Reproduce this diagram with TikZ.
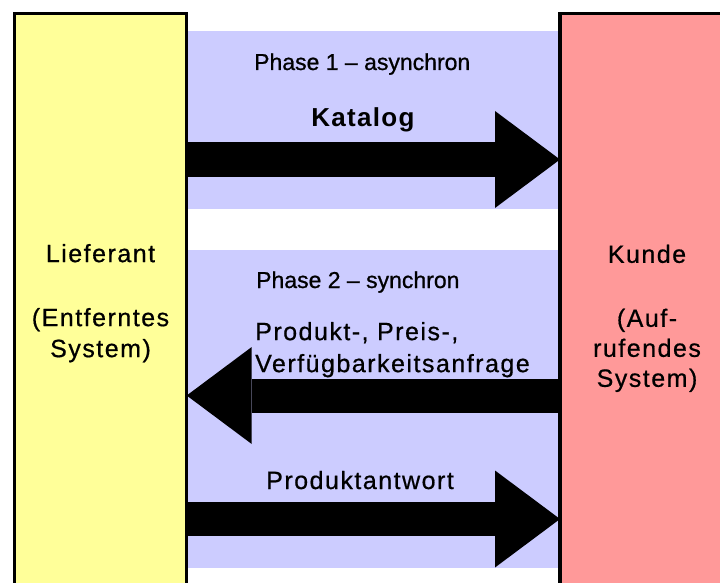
\documentclass[tikz,border=0pt]{standalone}
\usepackage{fontspec}
\setmainfont{Liberation Sans}
\usetikzlibrary{arrows.meta}
\definecolor{lief}{HTML}{FFFF99}
\definecolor{kund}{HTML}{FF9999}
\definecolor{band}{HTML}{CCCCFF}
\tikzset{
  sysbox/.style={draw=black, line width=3.3pt, inner sep=0pt, outer sep=0pt},
  bigtext/.style={inner sep=0pt, font=\fontsize{25}{31}\selectfont\addfontfeatures{LetterSpace=6,FakeBold=0.6}},
  phasetext/.style={inner sep=0pt, font=\fontsize{23}{28}\selectfont\addfontfeatures{FakeBold=0.8}},
  boldtext/.style={inner sep=0pt, font=\fontsize{26}{31}\selectfont\bfseries\addfontfeatures{LetterSpace=5}},
  blockarrow/.style={draw=black, line width=34pt,
    -{Triangle[length=65pt, width=97pt, line width=0pt]}}
}
\begin{document}
\begin{tikzpicture}[x=1pt, y=-1pt]
\useasboundingbox (0,0) rectangle (720,583);
\clip (0,0) rectangle (720,583);
\fill[white] (0,0) rectangle (720,583);
% lavender bands
\fill[band] (186.7,31) rectangle (560,209);
\fill[band] (186.7,250) rectangle (560,568);
% boxes
\node[sysbox, fill=lief, minimum width=172.4pt, minimum height=576.7pt] (lief) at (100.5,301.65) {};
\node[sysbox, fill=kund, minimum width=174pt, minimum height=576.7pt] (kunde) at (647,301.65) {};
% box texts
\node[bigtext, align=center, anchor=north] (lieftxt) at (100.5,243.8)
  {Lieferant\\[33pt](Entferntes\\System)};
\node[bigtext, align=center, anchor=north, font=\fontsize{25}{30}\selectfont\addfontfeatures{LetterSpace=6,FakeBold=0.6}] (kundetxt) at (647,244.5)
  {Kunde\\[34pt](Auf-\\rufendes\\System)};
% arrows
\coordinate (y1) at (0,159.5);
\coordinate (y2) at (0,395.5);
\coordinate (y3) at (0,519);
\draw[blockarrow] (lief.east |- y1) -- (kunde.west |- y1);
\draw[blockarrow] (kunde.west |- y2) -- (lief.east |- y2);
\draw[blockarrow] (lief.east |- y3) -- (kunde.west |- y3);
% labels
\node[phasetext, anchor=base west] (ph1) at (254,70) {Phase 1 – asynchron};
\node[boldtext, anchor=base] (kat) at (363,126.7) {Katalog};
\node[phasetext, anchor=base west] (ph2) at (256,288) {Phase 2 – synchron};
\node[bigtext, align=left, anchor=north west, font=\fontsize{25}{32}\selectfont\addfontfeatures{LetterSpace=6,FakeBold=0.6}] (anfr) at (255,321.8)
  {Produkt-, Preis-,\\Verfügbarkeitsanfrage};
\node[bigtext, anchor=base west] (antw) at (266,489) {Produktantwort};
\end{tikzpicture}
\end{document}
